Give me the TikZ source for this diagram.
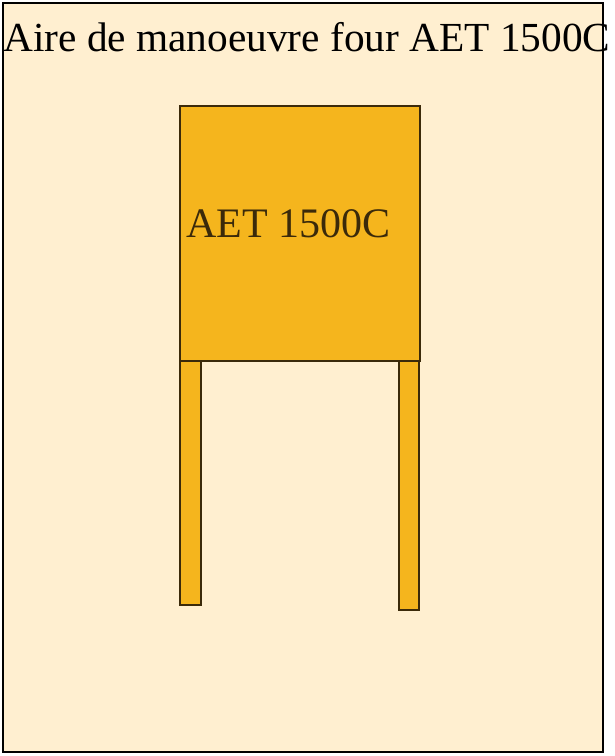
\documentclass[tikz,border=0pt]{standalone}
\usepackage{fontspec}
\setmainfont{Liberation Serif}
\definecolor{bgcream}{HTML}{FFEFD0}
\definecolor{ovenfill}{HTML}{F5B51D}
\definecolor{ovenline}{HTML}{3B2A0A}
\begin{document}
\begin{tikzpicture}[x=0.75pt,y=-0.75pt,
  area/.style={draw=black,line width=2.2pt,fill=bgcream},
  part/.style={draw=ovenline,line width=2.2pt,fill=ovenfill},
  lbl/.style={inner sep=0pt,anchor=base west,font=\fontsize{31}{37}\selectfont}]
\useasboundingbox (0,0) rectangle (614,756);
\draw[area] (3,3) rectangle (603,752);
\node[lbl] (title) at (3,52) {Aire de manoeuvre four AET 1500C};
\draw[part] (180,361) rectangle (201,605);
\draw[part] (399,361) rectangle (419,610);
\draw[part] (180,106) rectangle (420,361);
\node[lbl,text=ovenline,font=\fontsize{31.5}{37}\selectfont] (oven) at (186,237) {AET 1500C};
\end{tikzpicture}
\end{document}
